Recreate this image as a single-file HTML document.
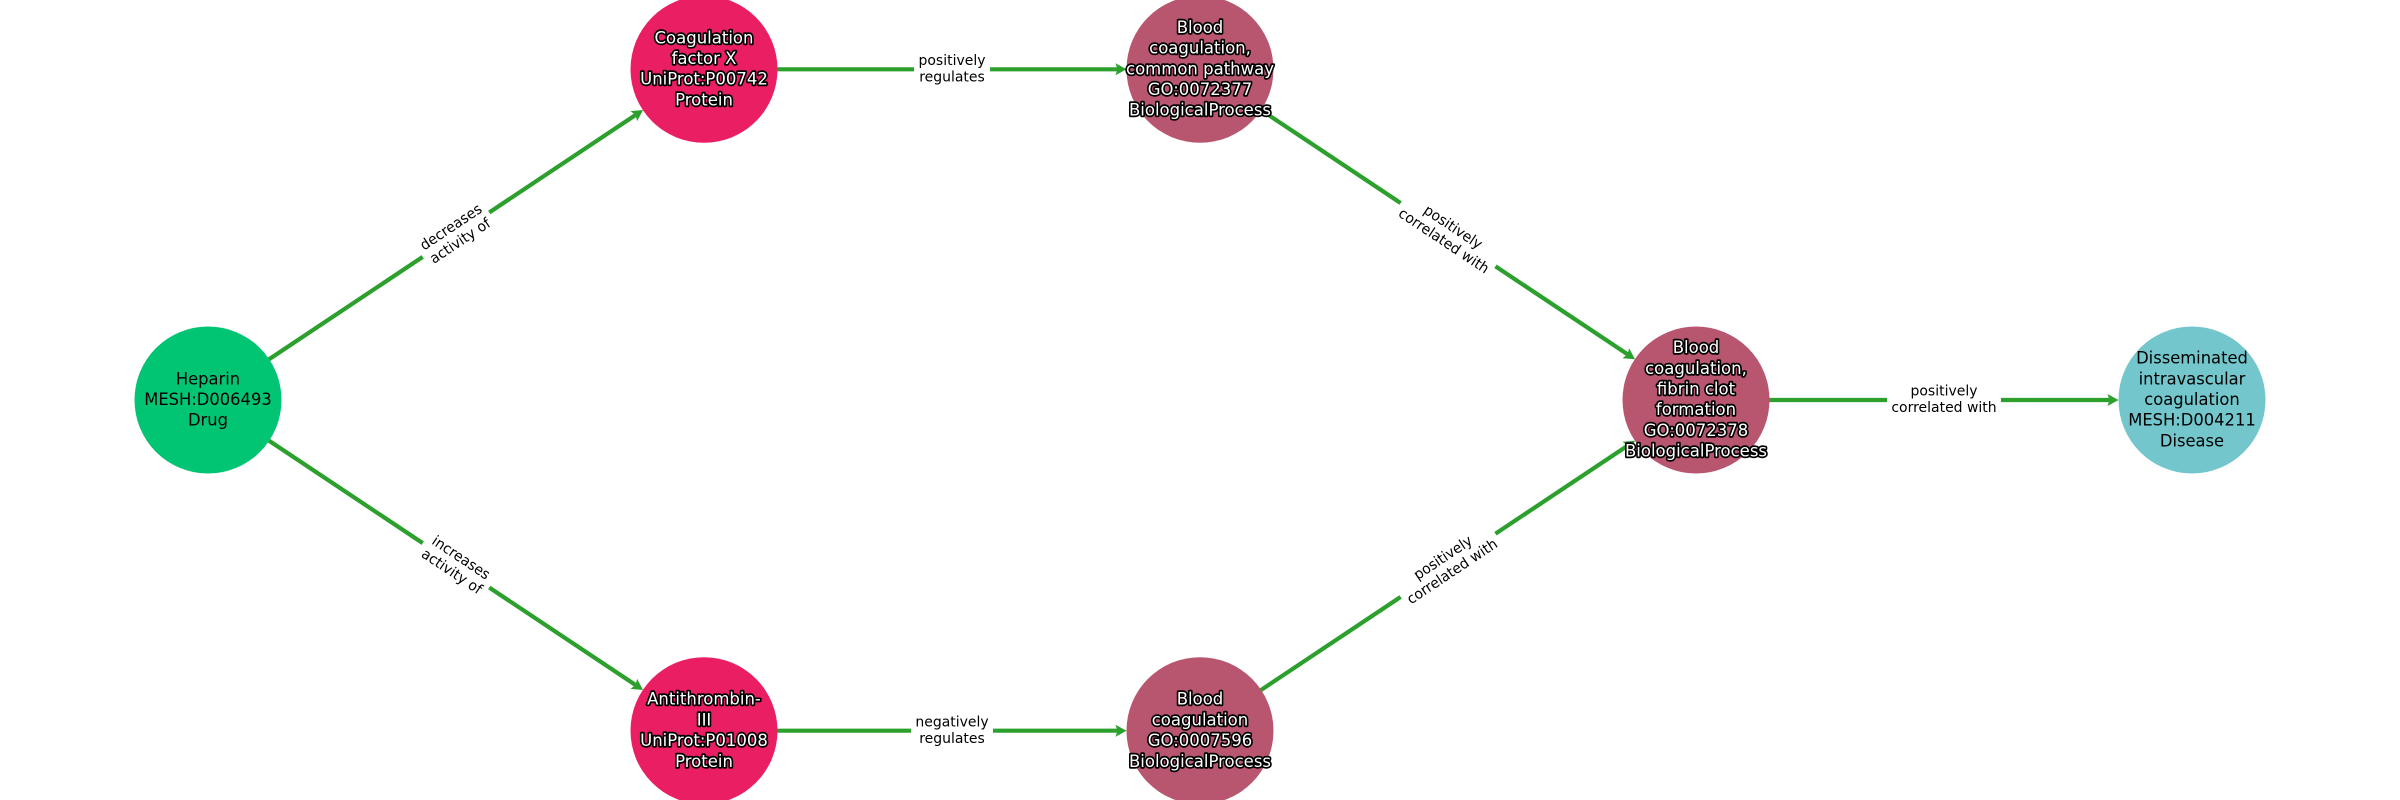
<!DOCTYPE html>
<html>
<head>
<meta charset="utf-8">
<style>
html,body{margin:0;padding:0;background:#fff;width:2400px;height:800px;overflow:hidden}
svg{display:block}
text{font-family:"DejaVu Sans",sans-serif;text-anchor:middle;transform-box:fill-box;transform-origin:center}
.n{font-size:17.2px;fill:#000;transform:scaleX(.95)}
.h{font-size:17.2px;fill:#fff;stroke:#000;stroke-width:3.4px;paint-order:stroke;stroke-linejoin:round;transform:scaleX(.96)}
.e{font-size:14.5px;fill:#000;transform:scaleX(.965)}
</style>
</head>
<body>
<svg width="2400" height="800" viewBox="0 0 2400 800" xmlns="http://www.w3.org/2000/svg">
<rect width="2400" height="800" fill="#fff"/>
<g stroke="#2ca02c" stroke-width="4.2" fill="none">
<line x1="208" y1="400" x2="637" y2="114"/>
<line x1="208" y1="400" x2="637" y2="686"/>
<line x1="704" y1="69.3" x2="1120" y2="69.3"/>
<line x1="704" y1="730.7" x2="1120" y2="730.7"/>
<line x1="1200" y1="69.3" x2="1629" y2="355.3"/>
<line x1="1200" y1="730.7" x2="1629" y2="444.7"/>
<line x1="1696" y1="400" x2="2112" y2="400"/>
</g>
<g>
<circle cx="208" cy="400" r="73.5" fill="#02c574"/>
<circle cx="704" cy="69.3" r="73.5" fill="#e91e63"/>
<circle cx="704" cy="730.7" r="73.5" fill="#e91e63"/>
<circle cx="1200" cy="69.3" r="73.5" fill="#b85670"/>
<circle cx="1200" cy="730.7" r="73.5" fill="#b85670"/>
<circle cx="1696" cy="400" r="73.5" fill="#b85670"/>
<circle cx="2192" cy="400" r="73.5" fill="#72c6cc"/>
</g>
<g fill="#2ca02c">
<polygon points="0,0 -11,-6 -9,0 -11,6" transform="translate(643,110) rotate(-33.7)"/>
<polygon points="0,0 -11,-6 -9,0 -11,6" transform="translate(643,690) rotate(33.7)"/>
<polygon points="0,0 -11,-6 -9,0 -11,6" transform="translate(1126.5,69.3)"/>
<polygon points="0,0 -11,-6 -9,0 -11,6" transform="translate(1126.5,730.7)"/>
<polygon points="0,0 -11,-6 -9,0 -11,6" transform="translate(1635,359.3) rotate(33.7)"/>
<polygon points="0,0 -11,-6 -9,0 -11,6" transform="translate(1635,440.7) rotate(-33.7)"/>
<polygon points="0,0 -11,-6 -9,0 -11,6" transform="translate(2118.5,400)"/>
</g>
<g transform="translate(456,234.7) rotate(-33.7)">
<rect x="-40" y="-20" width="80" height="40" fill="#fff"/>
<text class="e" x="0" y="-4.4">decreases</text>
<text class="e" x="0" y="12.2">activity of</text>
</g>
<g transform="translate(456,565.3) rotate(33.7)">
<rect x="-40" y="-20" width="80" height="40" fill="#fff"/>
<text class="e" x="0" y="-4.4">increases</text>
<text class="e" x="0" y="12.2">activity of</text>
</g>
<g transform="translate(952,69.3)">
<rect x="-38" y="-20" width="76" height="40" fill="#fff"/>
<text class="e" x="0" y="-4.4">positively</text>
<text class="e" x="0" y="12.2">regulates</text>
</g>
<g transform="translate(952,730.7)">
<rect x="-41" y="-20" width="82" height="40" fill="#fff"/>
<text class="e" x="0" y="-4.4">negatively</text>
<text class="e" x="0" y="12.2">regulates</text>
</g>
<g transform="translate(1448,234.7) rotate(33.7)">
<rect x="-57" y="-20" width="114" height="40" fill="#fff"/>
<text class="e" x="0" y="-4.4">positively</text>
<text class="e" x="0" y="12.2">correlated with</text>
</g>
<g transform="translate(1448,565.3) rotate(-33.7)">
<rect x="-57" y="-20" width="114" height="40" fill="#fff"/>
<text class="e" x="0" y="-4.4">positively</text>
<text class="e" x="0" y="12.2">correlated with</text>
</g>
<g transform="translate(1944,400)">
<rect x="-57" y="-20" width="114" height="40" fill="#fff"/>
<text class="e" x="0" y="-4.4">positively</text>
<text class="e" x="0" y="12.2">correlated with</text>
</g>
<g>
<text class="n" x="208" y="384.3">Heparin</text>
<text class="n" x="208" y="405">MESH:D006493</text>
<text class="n" x="208" y="425.7">Drug</text>
<text class="n" x="2192" y="363.6">Disseminated</text>
<text class="n" x="2192" y="384.3">intravascular</text>
<text class="n" x="2192" y="405">coagulation</text>
<text class="n" x="2192" y="425.7">MESH:D004211</text>
<text class="n" x="2192" y="446.4">Disease</text>
</g>
<g>
<text class="h" x="704" y="43.3">Coagulation</text>
<text class="h" x="704" y="64">factor X</text>
<text class="h" x="704" y="84.7">UniProt:P00742</text>
<text class="h" x="704" y="105.4">Protein</text>
<text class="h" x="704" y="704.7">Antithrombin-</text>
<text class="h" x="704" y="725.4">III</text>
<text class="h" x="704" y="746.1">UniProt:P01008</text>
<text class="h" x="704" y="766.8">Protein</text>
<text class="h" x="1200" y="32.9">Blood</text>
<text class="h" x="1200" y="53.6">coagulation,</text>
<text class="h" x="1200" y="74.3">common pathway</text>
<text class="h" x="1200" y="95">GO:0072377</text>
<text class="h" x="1200" y="115.7">BiologicalProcess</text>
<text class="h" x="1200" y="704.7">Blood</text>
<text class="h" x="1200" y="725.4">coagulation</text>
<text class="h" x="1200" y="746.1">GO:0007596</text>
<text class="h" x="1200" y="766.8">BiologicalProcess</text>
<text class="h" x="1696" y="353.1">Blood</text>
<text class="h" x="1696" y="373.8">coagulation,</text>
<text class="h" x="1696" y="394.5">fibrin clot</text>
<text class="h" x="1696" y="415.2">formation</text>
<text class="h" x="1696" y="435.9">GO:0072378</text>
<text class="h" x="1696" y="456.6">BiologicalProcess</text>
</g>
</svg>
</body>
</html>
